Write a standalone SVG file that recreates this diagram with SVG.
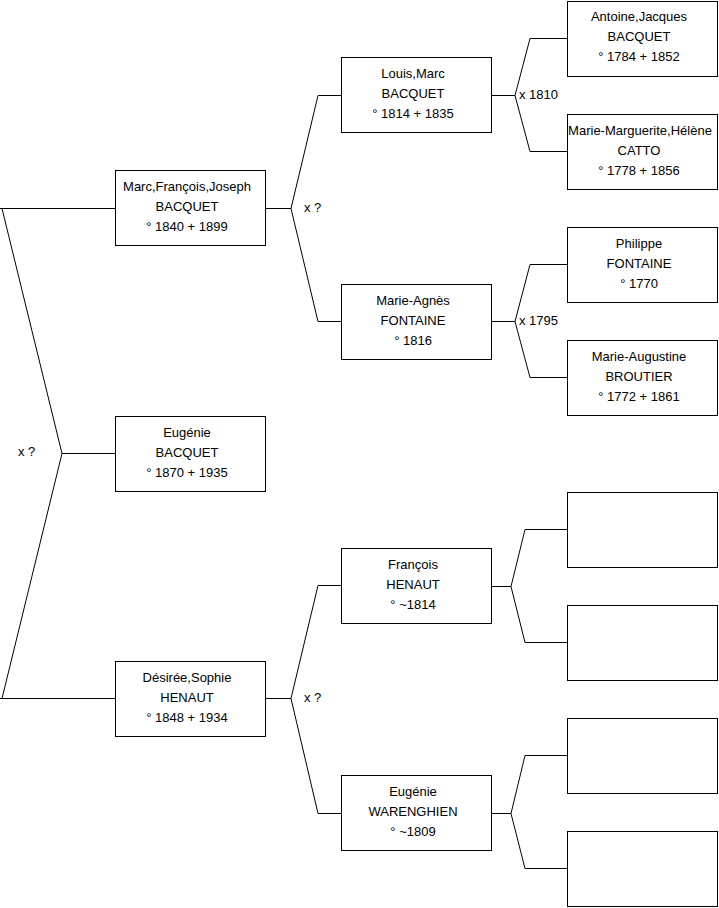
<svg xmlns="http://www.w3.org/2000/svg" width="719" height="908" viewBox="0 0 719 908">
<style>
.box{fill:#fff;stroke:#000;stroke-width:1}
.ln{fill:none;stroke:#000;stroke-width:1}
text{font-family:"Liberation Sans",Arial,sans-serif;font-size:13px;fill:#000}
.c{text-anchor:middle}
</style>
<rect width="719" height="908" fill="#fff"/>
<g id="connectors">
<polyline class="ln" points="0,208.5 115,208.5"/>
<polyline class="ln" points="2,208.5 62,453.5 2,698.5"/>
<polyline class="ln" points="62,453.5 115,453.5"/>
<polyline class="ln" points="0,698.5 115,698.5"/>
<polyline class="ln" points="265,208.5 291,208.5"/>
<polyline class="ln" points="341,95.5 318,95.5 291,208.5 318,321.5 341,321.5"/>
<polyline class="ln" points="265,698.5 291,698.5"/>
<polyline class="ln" points="341,585.5 318,585.5 291,698.5 318,813.5 341,813.5"/>
<polyline class="ln" points="492,95.5 515,95.5"/>
<polyline class="ln" points="567,38.5 530,38.5 515,95.5 530,151.5 567,151.5"/>
<polyline class="ln" points="492,321.5 515,321.5"/>
<polyline class="ln" points="567,264.5 530,264.5 515,321.5 530,377.5 567,377.5"/>
<polyline class="ln" points="492,586.5 511,586.5"/>
<polyline class="ln" points="567,529.5 525,529.5 511,586.5 525,642.5 567,642.5"/>
<polyline class="ln" points="492,813.5 511,813.5"/>
<polyline class="ln" points="567,755.5 525,755.5 511,813.5 525,868.5 567,868.5"/>
<text x="18" y="456">x ?</text>
<text x="304" y="212">x ?</text>
<text x="304" y="702">x ?</text>
<text x="519" y="99">x 1810</text>
<text x="519" y="325">x 1795</text>
</g>
<g id="marc"><rect class="box" x="115.5" y="170.5" width="150" height="75"/>
<text class="c" x="187" y="191">Marc,François,Joseph</text><text class="c" x="187" y="211">BACQUET</text><text class="c" x="187" y="231">° 1840 + 1899</text></g>
<g id="eugenie-bacquet"><rect class="box" x="115.5" y="416.5" width="150" height="75"/>
<text class="c" x="187" y="437">Eugénie</text><text class="c" x="187" y="457">BACQUET</text><text class="c" x="187" y="477">° 1870 + 1935</text></g>
<g id="desiree"><rect class="box" x="115.5" y="661.5" width="150" height="75"/>
<text class="c" x="187" y="682">Désirée,Sophie</text><text class="c" x="187" y="702">HENAUT</text><text class="c" x="187" y="722">° 1848 + 1934</text></g>
<g id="louis"><rect class="box" x="341.5" y="57.5" width="150" height="75"/>
<text class="c" x="413" y="78">Louis,Marc</text><text class="c" x="413" y="98">BACQUET</text><text class="c" x="413" y="118">° 1814 + 1835</text></g>
<g id="marie-agnes"><rect class="box" x="341.5" y="284.5" width="150" height="75"/>
<text class="c" x="413" y="305">Marie-Agnès</text><text class="c" x="413" y="325">FONTAINE</text><text class="c" x="413" y="345">° 1816</text></g>
<g id="francois"><rect class="box" x="341.5" y="548.5" width="150" height="75"/>
<text class="c" x="413" y="569">François</text><text class="c" x="413" y="589">HENAUT</text><text class="c" x="413" y="609">° ~1814</text></g>
<g id="eugenie-warenghien"><rect class="box" x="341.5" y="775.5" width="150" height="75"/>
<text class="c" x="413" y="796">Eugénie</text><text class="c" x="413" y="816">WARENGHIEN</text><text class="c" x="413" y="836">° ~1809</text></g>
<g id="antoine"><rect class="box" x="567.5" y="1.5" width="150" height="75"/>
<text class="c" x="639" y="21">Antoine,Jacques</text><text class="c" x="639" y="41">BACQUET</text><text class="c" x="639" y="61">° 1784 + 1852</text></g>
<g id="marie-marguerite"><rect class="box" x="567.5" y="114.5" width="150" height="75"/>
<text class="c" x="640" y="135">Marie-Marguerite,Hélène</text><text class="c" x="639" y="155">CATTO</text><text class="c" x="639" y="175">° 1778 + 1856</text></g>
<g id="philippe"><rect class="box" x="567.5" y="227.5" width="150" height="75"/>
<text class="c" x="639" y="248">Philippe</text><text class="c" x="639" y="268">FONTAINE</text><text class="c" x="639" y="288">° 1770</text></g>
<g id="marie-augustine"><rect class="box" x="567.5" y="340.5" width="150" height="75"/>
<text class="c" x="639" y="361">Marie-Augustine</text><text class="c" x="639" y="381">BROUTIER</text><text class="c" x="639" y="401">° 1772 + 1861</text></g>
<g id="blank1"><rect class="box" x="567.5" y="492.5" width="150" height="75"/></g>
<g id="blank2"><rect class="box" x="567.5" y="605.5" width="150" height="75"/></g>
<g id="blank3"><rect class="box" x="567.5" y="718.5" width="150" height="75"/></g>
<g id="blank4"><rect class="box" x="567.5" y="831.5" width="150" height="75"/></g>
</svg>
